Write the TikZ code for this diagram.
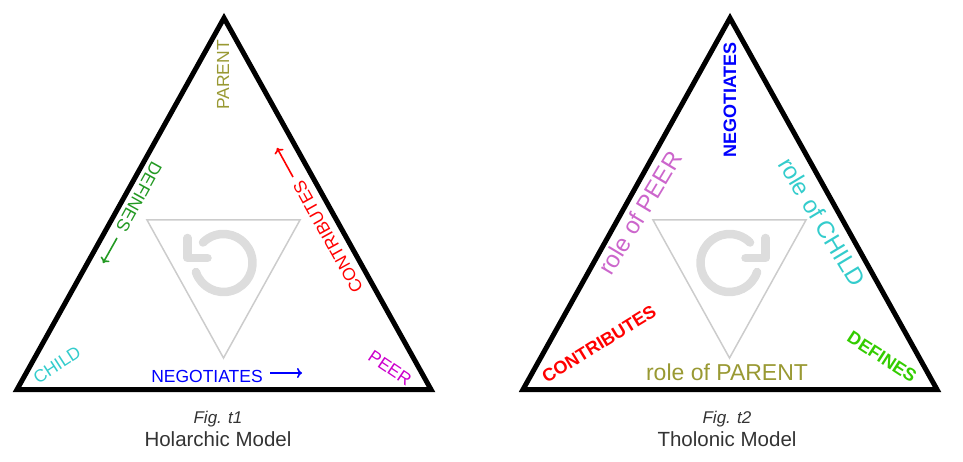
\documentclass[tikz,border=0pt]{standalone}
\usepackage{fontspec}
\setmainfont{Liberation Sans}
\usepackage{xcolor}
\usetikzlibrary{calc,
	positioning,
	arrows.meta}

\definecolor{parentcol}{RGB}{153,153,51}
\definecolor{definecol}{RGB}{34,153,34}
\definecolor{definebright}{RGB}{51,204,0}
\definecolor{childcol}{RGB}{51,204,204}
\definecolor{peercol}{RGB}{204,0,204}
\definecolor{peerlight}{RGB}{204,102,204}
\definecolor{negcol}{RGB}{0,0,255}
\definecolor{contribcol}{RGB}{255,0,0}
\definecolor{capgrey}{RGB}{51,51,51}
\definecolor{swirlgrey}{RGB}{221,221,221}
\definecolor{linegrey}{RGB}{204,204,204}

\tikzset{
	frame/.style={line width=5pt, line join=miter},
	inner/.style={draw=linegrey, line width=1.5pt},
	swirl/.style={draw=swirlgrey, line width=8.5pt, line cap=round, line join=round},
	word/.style={inner sep=0pt, font=\fontsize{17.5}{20}\selectfont},
	bigword/.style={inner sep=0pt, font=\fontsize{24}{28}\selectfont},
	boldword/.style={inner sep=0pt, font=\fontsize{18}{21}\selectfont\bfseries},
	figcap/.style={inner sep=0pt, anchor=base, text=capgrey, font=\fontsize{17}{20}\selectfont\itshape},
	figname/.style={inner sep=0pt, anchor=base, text=capgrey, font=\fontsize{20.5}{24}\selectfont},
	pointer/.style={-{To[length=5pt,width=10pt]}, line width=1.6pt}
}

\begin{document}
\begin{tikzpicture}[x=1pt, y=1pt]
	\useasboundingbox (0, 0) rectangle (963, 461);
	% the two frames, the inner triangle and the turning arrow
	\foreach \shift/\turn in {0/1, 506/-1} {
		\begin{scope}[xshift=\shift pt]
			\draw[frame] (224, 443) -- (17, 71.5) -- (431, 71.5) -- cycle;
			\draw[inner] (147, 241) -- (300, 241) -- (223.5, 103) -- cycle;
			\begin{scope}[shift={(223.5, 198)}, xscale=\turn]
				\draw[swirl] (198:29) arc[start angle=198, end angle=495, radius=29];
				\draw[swirl] (-36, 25) -- (-36, 5) -- (-16, 5);
			\end{scope}
		\end{scope}
	}
	% Fig. t1
	\node[word, text=parentcol, rotate=90] (parent) at (223, 386) {PARENT};
	\node[word, text=definecol, rotate=241] (defines) at (139, 264) {DEFINES};
	\node[word, text=contribcol, rotate=119] (contrib) at (328, 224) {CONTRIBUTES};
	\node[word, text=childcol, rotate=33] (child) at (57, 96) {CHILD};
	\node[word, text=negcol] (negotiates) at (207, 85) {NEGOTIATES};
	\node[word, text=peercol, rotate=-34] (peer) at (390, 93) {PEER};
	\coordinate (defA) at (117, 223);
	\coordinate (defB) at (103, 198);
	\coordinate (conA) at (293, 284);
	\coordinate (conB) at (277, 313);
	\coordinate (negA) at (270, 88);
	\coordinate (negB) at (302, 88);
	\draw[pointer, definecol] (defA) -- (defB);
	\draw[pointer, contribcol] (conA) -- (conB);
	\draw[pointer, negcol] (negA) -- (negB);
	\node[figcap] (capA) at (218, 38) {Fig. t1};
	\node[figname] (nameA) at (218, 15) {Holarchic Model};
	% Fig. t2
	\node[boldword, text=negcol, rotate=90] (negotiates2) at (730, 361) {NEGOTIATES};
	\node[bigword, text=peerlight, rotate=59] (peer2) at (640, 248) {role of PEER};
	\node[bigword, text=childcol, rotate=-59] (child2) at (822, 239) {role of CHILD};
	\node[bigword, text=parentcol, font=\fontsize{23}{27}\selectfont] (parent2) at (727, 89) {role of PARENT};
	\node[boldword, text=contribcol, rotate=31.5] (contrib2) at (599, 117) {CONTRIBUTES};
	\node[boldword, text=definebright, rotate=-33] (defines2) at (882, 104) {DEFINES};
	\node[figcap] (capB) at (727, 38) {Fig. t2};
	\node[figname] (nameB) at (727, 15) {Tholonic Model};
\end{tikzpicture}
\end{document}
